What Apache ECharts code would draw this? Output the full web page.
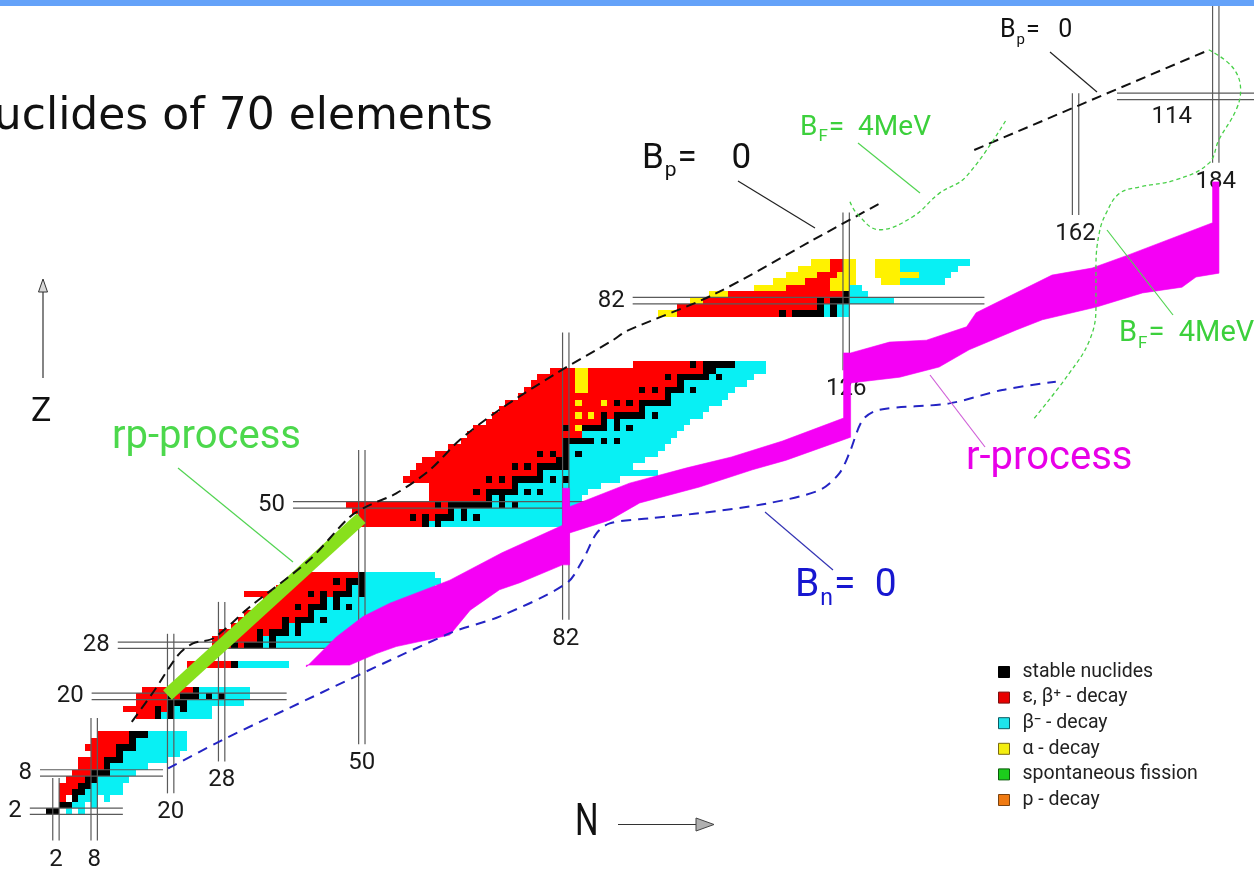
<!DOCTYPE html>
<html>
<head>
<meta charset="utf-8">
<script src="https://cdn.jsdelivr.net/npm/echarts@6/dist/echarts.min.js"></script>
<style>
  html, body { margin: 0; padding: 0; background: #ffffff; }
  #chart { width: 1254px; height: 870px; }
</style>
</head>
<body>
<div id="chart"></div>
<script>
// ---------------- nuclide cells: [Z, first N, last N] ----------------
const stableRuns = [
  [2,1,2],[3,3,4],[4,5,5],[5,5,6],[6,6,7],[7,7,8],[8,8,10],[9,10,10],[10,10,12],[11,12,12],[12,12,14],[13,14,14],[14,14,16],
  [17,18,18],[17,20,20],[18,18,18],[18,20,20],[18,22,22],[19,20,22],[20,20,20],[20,22,24],[20,26,26],[20,28,28],[21,24,24],
  [25,30,30],
  [28,30,30],[28,32,34],[28,36,36],[29,34,34],[29,36,36],[30,34,34],[30,36,38],[30,40,40],[31,38,38],[31,40,40],
  [32,38,38],[32,40,42],[32,44,44],[33,42,42],[34,40,40],[34,42,44],[34,46,46],[34,48,48],[35,44,44],[35,46,46],
  [36,42,42],[36,44,44],[36,46,48],[36,50,50],[37,48,48],[37,50,50],[38,46,46],[38,48,50],[39,50,50],
  [47,60,60],[47,62,62],[48,58,58],[48,60,60],[48,62,64],[48,66,66],[48,68,68],[49,64,64],[49,66,66],
  [50,62,62],[50,64,70],[50,72,72],[50,74,74],[51,70,70],[51,72,72],[52,68,68],[52,70,74],[52,76,76],[52,78,78],
  [53,74,74],[54,70,70],[54,72,72],[54,74,78],[54,80,80],[54,82,82],[55,78,78],[56,74,74],[56,76,76],[56,78,82],
  [57,81,82],[58,78,78],[58,80,80],[58,82,82],[58,84,84],[59,82,82],[60,82,86],[60,88,88],[60,90,90],
  [62,82,82],[62,85,88],[62,90,90],[62,92,92],[63,88,88],[63,90,90],[64,88,88],[64,90,94],[64,96,96],[65,94,94],
  [66,90,90],[66,92,92],[66,94,98],[67,98,98],[68,94,94],[68,96,96],[68,98,100],[68,102,102],[69,100,100],
  [70,98,98],[70,100,104],[70,106,106],[71,104,105],[72,102,102],[72,104,108],
  [80,116,116],[80,118,122],[80,124,124],[81,122,122],[81,124,124],[82,122,122],[82,124,126],[83,126,126]
];
const betaPlusRuns = [
  [4,3,3],[5,3,4],[6,3,5],[7,4,6],[8,5,7],[9,6,9],[10,6,9],[11,8,11],[12,7,11],[13,8,13],[14,9,13],
  [17,15,17],[18,13,17],[18,19,19],[19,15,19],[20,15,19],[20,21,21],[21,16,23],
  [25,23,29],
  [28,27,29],[28,31,31],[29,27,33],[30,28,33],[30,35,35],[31,30,37],[32,31,37],[32,39,39],[33,32,41],
  [34,34,39],[34,41,41],[35,35,43],[36,32,41],[36,43,43],[36,45,45],[37,37,47],[38,39,45],[38,47,47],[39,40,49],
  [47,50,59],[48,50,57],[48,59,59],[48,61,61],[49,49,63],[50,48,61],[50,63,63],
  [51,61,69],[52,61,67],[52,69,69],[53,61,73],[54,57,69],[54,71,71],[54,73,73],[55,58,77],[56,59,73],[56,75,75],[56,77,77],
  [57,60,80],[58,62,77],[58,79,79],[58,81,81],[59,64,81],[60,66,81],[61,67,84],[62,68,81],[62,83,83],[63,70,87],
  [64,71,83],[64,85,85],[64,87,87],[64,89,89],[65,72,93],[66,73,83],[66,85,87],[66,89,89],[66,91,91],[66,93,93],
  [67,75,97],[68,76,83],[68,86,93],[68,95,95],[68,97,97],[69,77,83],[69,86,99],[70,78,83],[70,86,97],[70,99,99],
  [71,80,83],[71,86,103],[72,93,101],[72,103,103],
  [80,100,115],[80,117,117],[81,100,121],[82,104,121],[82,123,123],[83,108,125],[84,117,123],[85,120,123],
  [86,122,124],[87,124,125],[88,124,125]
];
const betaMinusRuns = [
  [2,4,4],[2,6,6],[3,5,6],[3,8,8],[4,6,8],[4,10,10],[5,7,12],[6,8,12],[7,9,13],[8,11,14],[9,11,16],[10,13,19],
  [11,13,21],[12,15,22],[13,15,22],[14,17,22],
  [17,19,19],[17,21,26],[18,21,21],[18,23,26],[19,23,31],[20,25,25],[20,27,27],[20,29,32],[21,25,32],
  [25,31,38],
  [28,35,35],[28,37,50],[29,35,35],[29,37,51],[30,39,39],[30,41,52],[31,39,39],[31,41,53],[32,43,43],[32,45,54],
  [33,43,55],[34,45,45],[34,47,47],[34,49,57],[35,45,45],[35,47,59],[36,49,49],[36,51,60],[37,49,49],[37,51,61],
  [38,51,62],[39,51,61],
  [47,61,61],[47,63,82],[48,65,65],[48,67,67],[48,69,82],[49,65,65],[49,67,83],[50,71,71],[50,73,73],[50,75,84],
  [51,71,71],[51,73,84],[52,75,75],[52,77,77],[52,79,85],[53,75,87],[54,79,79],[54,81,81],[54,83,90],[55,79,96],
  [56,83,92],[57,83,94],[58,83,83],[58,85,96],[59,83,97],[60,87,87],[60,89,89],[60,91,98],[61,85,99],[62,89,89],
  [62,91,91],[62,93,100],[63,89,89],[63,91,101],[64,95,95],[64,97,103],[65,95,104],[66,99,106],[67,99,107],
  [68,101,101],[68,103,108],[69,101,110],[70,105,105],[70,107,111],[71,106,113],[72,109,113],
  [80,123,123],[80,125,126],[81,123,123],[81,125,126],[82,127,133],[83,127,129],[84,127,128],
  [85,135,141],[86,138,142],[87,135,143],[88,135,145]
];
const alphaRuns = [
  [62,84,84],[64,84,84],[64,86,86],[66,84,84],[66,88,88],[68,84,85],[69,84,85],[70,84,85],[71,84,85],
  [80,97,99],[82,102,103],[83,105,107],[84,112,116],[84,124,126],[85,115,119],[85,124,127],[86,117,121],[86,125,127],
  [87,119,123],[87,126,127],[88,121,123],[88,126,127],
  [85,132,134],[86,131,137],[87,131,134],[88,131,134]
];
const fissionRuns = [];
const protonRuns = [];

// ---------------- magic numbers: [value, from, to] ----------------
const magicZ = [[2,-2.1,12.5],[8,-0.5,18.8],[20,7.6,38.2],[28,11.7,50.2],[50,39.2,86.8],[82,92.5,147.7],[114,168.5,190]];
const magicN = [[2,-2.6,7.2],[8,-2.6,16.6],[20,4.8,29.8],[28,9.8,34.8],[50,12.5,58.6],[82,32.0,77.0],[126,71.1,95.8],[162,95.4,114.5],[184,103.6,128.3]];

// ---------------- r-process path outline (N, Z) ----------------
const rProcessUpper = [
  [41.3,24.6],[46,29.3],[50.2,32.5],[54.4,34.6],[63.8,38.2],[72,42.5],[81.5,46.8],[81.5,52.6],[82.6,52.6],[82.6,49.7],
  [92,53.4],[101,55.8],[108,57.5],[116,60],[125.6,63.6],[125.6,73.8],[126.7,73.8],[132.8,75.5],[138.6,75.8],
  [144.9,77.9],[146.4,80.1],[158.3,86.0],[164.6,87.1],[170.4,89.2],[183.5,94.2],[183.5,100.6],[184.5,100.6]
];
const rProcessLower = [
  [184.5,86.3],[180.9,85.7],[178.7,84.1],[172.5,83.2],[165.3,81.0],[156.8,79.0],[152.7,77.4],[145.3,74.3],
  [140.6,71.6],[134.4,70.0],[126.7,69.1],[126.7,60.6],[116.6,57],[111.3,55.5],[103,52.8],[93.6,50.3],[88.9,47.6],
  [82.6,45.6],[82.6,40.6],[81.5,40.6],[74.8,37.8],[71.6,36.7],[67,33.5],[63.8,29.6],[55.4,27.8],[52.3,26.7],
  [48.1,24.9],[41.3,24.9]
];
// rp-process path (N, Z)
const rpProcess = [[19.5,20.2],[49.9,47.9]];

// ---------------- drip lines and fission barrier (N, Z) ----------------
const bpZeroLow = [
  [13.9,16],[17.5,21],[21.2,26.5],[23.5,28.3],[26.7,29.1],[32.4,34],[41.8,41.4],[48.1,48.1],[51.3,50],[55.4,51.8],
  [60.7,55.5],[65.4,60.2],[71.6,64.9],[80.5,70.6],[89.4,75.8],[91.5,77.2],[105.1,82.9],[120.8,91.5],[131.2,97.2]
];
const bpZeroHigh = [[146.1,105.6],[183,121.3]];
const bnZero = [
  [19.6,8.7],[28.2,13.2],[34,16],[63.8,29.9],[71.6,32.5],[82.1,37.7],[84.7,41.4],[86.8,45.5],[88.9,47.1],
  [95.2,47.9],[103,48.7],[113.5,50.2],[121.8,52.3],[124.9,54.9],[126.5,58.1],[128.6,63.3],[131.2,64.9],
  [142.2,65.9],[150.5,68],[158.9,69.3]
];
const bfLeft = [[126.6,97.5],[127.8,95.5],[131.2,93.1],[136.4,95.1],[140.6,98.8],[144.8,101.4],[151.1,110.3]];
const bfRight = [
  [182.9,121.3],[186.6,118.6],[187.9,115],[187.2,111.9],[184.5,107.2],[182.9,103.5],[177.7,100.9],[172,99.8],
  [168.9,98.8],[166.8,95.7],[165.7,92.5],[165.2,87.3],[165.2,81],[164.2,75.8],[161,70.6],[155.3,63.3]
];

// ---------------- colours and fonts ----------------
const C_STABLE = '#000000', C_BPLUS = '#ff0000', C_BMINUS = '#08f0f4', C_ALPHA = '#fff200',
      C_FISSION = '#1ccc1c', C_PROTON = '#f07a12', C_R = '#f500f5', C_RP = '#88e01c';
const F_SANS = 'Roboto, "DejaVu Sans", sans-serif';

// one run of cells in a row, snapped to whole pixels so neighbouring rows join without seams
function cellSeries(name, data, color, z) {
  return {
    type: 'custom', name: name, data: data, z: z, silent: true,
    encode: { x: [1, 2], y: 0 },
    itemStyle: { color: color },
    renderItem: function (params, api) {
      const zz = api.value(0), n0 = api.value(1), n1 = api.value(2);
      const a = api.coord([n0 - 0.5, zz + 0.5]);
      const b = api.coord([n1 + 0.5, zz - 0.5]);
      const x0 = Math.round(a[0]), y0 = Math.round(a[1]);
      const x1 = Math.round(b[0]), y1 = Math.round(b[1]);
      return { type: 'rect', shape: { x: x0, y: y0, width: x1 - x0, height: y1 - y0 },
               style: { fill: color } };
    }
  };
}

function dblLine(p, q) {
  return { type: 'line', shape: { x1: p[0], y1: p[1], x2: q[0], y2: q[1] }, style: { stroke: '#5a5a5a', lineWidth: 1.2 } };
}
const magicText = { fill: '#1a1a1a', fontFamily: F_SANS, fontSize: 24 };

function bLabel(x, y, sub, rest, size, color, z) {
  const ss = Math.round(size * 0.6);
  return {
    type: 'text', x: x, y: y, z: z || 20,
    style: {
      text: '{m|B}{s|' + sub + '}{m|' + rest + '}',
      rich: {
        m: { fontSize: size, lineHeight: size, verticalAlign: 'top', fill: color, fontFamily: F_SANS },
        s: { fontSize: ss, lineHeight: ss, verticalAlign: 'top', fill: color, fontFamily: F_SANS,
             padding: [Math.round(size * 0.55), 1, 0, 1] }
      }
    }
  };
}
function leader(x1, y1, x2, y2, color) {
  return { type: 'line', z: 20, shape: { x1: x1, y1: y1, x2: x2, y2: y2 }, style: { stroke: color, lineWidth: 1.2 } };
}

const chart = echarts.init(document.getElementById('chart'));
const option = {
  animation: false,
  backgroundColor: '#ffffff',
  grid: { left: 43.2, top: 7, width: 1211.6, height: 817 },
  xAxis: { type: 'value', min: 0, max: 190, show: false },
  yAxis: { type: 'value', min: 0, max: 128, show: false },
  legend: {
    orient: 'vertical', left: 993, top: 657, itemWidth: 11, itemHeight: 11, itemGap: 5.6,
    selectedMode: false,
    textStyle: { fontFamily: F_SANS, fontSize: 19.5, color: '#222', lineHeight: 20, padding: [0, 0, 0, 8] },
    data: [
      { name: 'stable nuclides', icon: 'rect', itemStyle: { color: C_STABLE, borderColor: '#000', borderWidth: 1 } },
      { name: 'ε, β⁺ - decay', icon: 'rect', itemStyle: { color: '#e80000', borderColor: '#7a1010', borderWidth: 1 } },
      { name: 'β⁻ - decay', icon: 'rect', itemStyle: { color: '#1ee4ec', borderColor: '#0b5a62', borderWidth: 1 } },
      { name: 'α - decay', icon: 'rect', itemStyle: { color: '#f4ee10', borderColor: '#7a6a10', borderWidth: 1 } },
      { name: 'spontaneous fission', icon: 'rect', itemStyle: { color: C_FISSION, borderColor: '#0a5a0a', borderWidth: 1 } },
      { name: 'p - decay', icon: 'rect', itemStyle: { color: C_PROTON, borderColor: '#7a4210', borderWidth: 1 } }
    ]
  },
  series: [
    cellSeries('ε, β⁺ - decay', betaPlusRuns, C_BPLUS, 2),
    cellSeries('β⁻ - decay', betaMinusRuns, C_BMINUS, 2),
    cellSeries('α - decay', alphaRuns, C_ALPHA, 2),
    cellSeries('spontaneous fission', fissionRuns, C_FISSION, 2),
    cellSeries('p - decay', protonRuns, C_PROTON, 2),
    cellSeries('stable nuclides', stableRuns, C_STABLE, 3),
    {
      type: 'custom', name: 'magic Z', data: magicZ, z: 4, silent: true,
      encode: { x: [1, 2], y: 0 },
      renderItem: function (params, api) {
        const v = api.value(0), f = api.value(1), t = api.value(2);
        const a1 = api.coord([f, v + 0.5]), b1 = api.coord([t, v + 0.5]);
        const a2 = api.coord([f, v - 0.5]), b2 = api.coord([t, v - 0.5]);
        let label;
        if (t >= 190) {
          const c = api.coord([f + (t - f) * 0.4, v]);
          label = { type: 'text', x: c[0], y: a2[1] + 17, style: Object.assign({ text: String(v), align: 'center', verticalAlign: 'middle' }, magicText) };
        } else {
          label = { type: 'text', x: a1[0] - 8, y: (a1[1] + a2[1]) / 2, style: Object.assign({ text: String(v), align: 'right', verticalAlign: 'middle' }, magicText) };
        }
        return { type: 'group', children: [dblLine(a1, b1), dblLine(a2, b2), label] };
      }
    },
    {
      type: 'custom', name: 'magic N', data: magicN, z: 4, silent: true,
      encode: { x: 0, y: [1, 2] },
      renderItem: function (params, api) {
        const v = api.value(0), f = api.value(1), t = api.value(2);
        const a1 = api.coord([v - 0.5, f]), b1 = api.coord([v - 0.5, t]);
        const a2 = api.coord([v + 0.5, f]), b2 = api.coord([v + 0.5, t]);
        const label = { type: 'text', x: (a1[0] + a2[0]) / 2, y: a1[1] + 19,
                        style: Object.assign({ text: String(v), align: 'center', verticalAlign: 'middle' }, magicText) };
        return { type: 'group', children: [dblLine(a1, b1), dblLine(a2, b2), label] };
      }
    },
    {
      type: 'custom', name: 'r-process', data: rProcessUpper.concat(rProcessLower), z: 5, silent: true,
      encode: { x: 0, y: 1 },
      renderItem: function (params, api) {
        if (params.dataIndex !== 0) return null;
        const pts = rProcessUpper.concat(rProcessLower).map(function (p) { return api.coord(p); });
        return { type: 'polygon', shape: { points: pts }, style: { fill: C_R, stroke: C_R, lineWidth: 0.6 } };
      }
    },
    {
      type: 'line', name: 'rp-process', data: rpProcess, z: 6, silent: true, symbol: 'none',
      lineStyle: { color: C_RP, width: 13, cap: 'butt' }
    },
    {
      type: 'line', name: 'Bp=0', data: bpZeroLow, z: 7, silent: true, symbol: 'none', smooth: 0.3,
      lineStyle: { color: '#111', width: 2, type: [10, 6] }
    },
    {
      type: 'line', name: 'Bp=0 (heavy)', data: bpZeroHigh, z: 7, silent: true, symbol: 'none',
      lineStyle: { color: '#111', width: 2, type: [10, 6] }
    },
    {
      type: 'line', name: 'Bn=0', data: bnZero, z: 7, silent: true, symbol: 'none', smooth: 0.3,
      lineStyle: { color: '#2424c4', width: 2, type: [10, 7] }
    },
    {
      type: 'line', name: 'BF=4MeV', data: bfLeft, z: 7, silent: true, symbol: 'none', smooth: 0.4,
      lineStyle: { color: '#48d048', width: 1.3, type: [4, 3] }
    },
    {
      type: 'line', name: 'BF=4MeV (outer)', data: bfRight, z: 7, silent: true, symbol: 'none', smooth: 0.4,
      lineStyle: { color: '#48d048', width: 1.3, type: [4, 3] }
    }
  ],
  graphic: [
    { type: 'rect', z: 30, shape: { x: 0, y: 0, width: 1254, height: 6 }, style: { fill: '#64a2f9' } },
    { type: 'text', x: 493, y: 117.5, z: 30,
      style: { text: 'Nuclides of 70 elements', align: 'right', verticalAlign: 'middle', fill: '#111',
               fontFamily: '"DejaVu Sans", sans-serif', fontSize: 44 } },
    bLabel(642, 141.5, 'p', '=    0', 35, '#111'),
    bLabel(1000, 18.5, 'p', '=   0', 25, '#111'),
    bLabel(800, 113.5, 'F', '=  4MeV', 28, '#3cd03c'),
    bLabel(1119, 319.5, 'F', '=  4MeV', 29, '#3cd03c'),
    bLabel(795, 566.5, 'n', '=  0', 39, '#1717d0'),
    { type: 'text', x: 112, y: 437.5, z: 20,
      style: { text: 'rp-process', verticalAlign: 'middle', fill: '#4cd84c', fontFamily: F_SANS, fontSize: 40 } },
    { type: 'text', x: 966, y: 458.5, z: 20,
      style: { text: 'r-process', verticalAlign: 'middle', fill: '#e800e8', fontFamily: F_SANS, fontSize: 40 } },
    { type: 'text', x: 31, y: 412, z: 20,
      style: { text: 'Z', verticalAlign: 'middle', fill: '#111', fontFamily: F_SANS, fontSize: 34 } },
    { type: 'text', x: 575, y: 824, z: 20, scaleX: 0.75,
      style: { text: 'N', verticalAlign: 'middle', fill: '#111', fontFamily: F_SANS, fontSize: 44 } },
    leader(43, 378, 43, 292, '#333'),
    { type: 'polygon', z: 20, shape: { points: [[38.5, 292], [47.5, 292], [43, 279]] }, style: { fill: '#d8d8d8', stroke: '#333', lineWidth: 1 } },
    leader(618, 824.5, 696, 824.5, '#333'),
    { type: 'polygon', z: 20, shape: { points: [[696, 818], [696, 831], [714, 824.5]] }, style: { fill: '#b0b0b0', stroke: '#444', lineWidth: 1 } },
    leader(178, 468, 293, 562, '#52d452'),
    leader(738, 181, 815, 228, '#222'),
    leader(1050, 52, 1097, 92, '#222'),
    leader(858, 143, 920, 193, '#52d452'),
    leader(1107, 230, 1173, 315, '#52d452'),
    leader(930, 375, 985, 447, '#d060d8'),
    leader(765, 512, 833, 570, '#3434b4')
  ]
};
chart.setOption(option);
</script>
</body>
</html>
